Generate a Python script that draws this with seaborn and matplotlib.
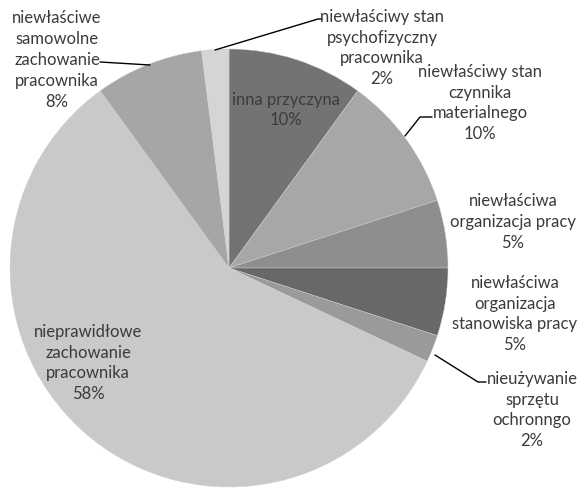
import matplotlib.pyplot as plt
import seaborn as sns

# data, clockwise from 12 o'clock
labels = ['inna przyczyna', 'niewłaściwy stan\nczynnika\nmaterialnego',
          'niewłaściwa\norganizacja pracy', 'niewłaściwa\norganizacja\nstanowiska pracy',
          'nieużywanie\nsprzętu\nochronngo', 'nieprawidłowe\nzachowanie\npracownika',
          'niewłaściwe\nsamowolne\nzachowanie\npracownika',
          'niewłaściwy stan\npsychofizyczny\npracownika']
shares = [10, 10, 5, 5, 2, 58, 8, 2]
colors = ['#737373', '#a7a7a7', '#8e8e8e', '#686868', '#9a9a9a', '#c8c9cb', '#a6a6a6', '#d5d5d5']

# layout in pixels of the 579x488 image
W, H = 579, 488
cx, cy, R = 229, 268, 219
label_px = [(286, 110), (480, 103), (513, 222), (515, 314), (532, 410), (88, 363), (57, 60), (382, 48)]
leaders = {
    1: [(405, 136), (420, 117), (432, 117)],
    4: [(435, 355), (478, 382), (486, 382)],
    6: [(150, 65), (100, 62)],
    7: [(215, 50), (318, 19), (322, 19)],
}


def to_data(px, py):
    return (px - cx) / R, (cy - py) / R


sns.set_theme(style='white')
plt.rcParams['font.family'] = ['Lato', 'DejaVu Sans']

fig = plt.figure(figsize=(W / 100, H / 100), dpi=100)
ax = fig.add_axes([0, 0, 1, 1])
ax.pie(shares, colors=colors, startangle=90, counterclock=False, radius=1,
       wedgeprops=dict(edgecolor='#d0d0d0', linewidth=0.3))
ax.set_xlim(-cx / R, (W - cx) / R)
ax.set_ylim(-(H - cy) / R, cy / R)
ax.axis('off')

for lab, s, (px, py) in zip(labels, shares, label_px):
    x, y = to_data(px, py)
    ax.text(x, y, f'{lab}\n{s}%', ha='center', va='center', fontsize=12,
            color='#3b3b3b', linespacing=1.38)

for pts in leaders.values():
    xs, ys = zip(*[to_data(px, py) for px, py in pts])
    ax.plot(xs, ys, color='black', lw=1)

fig.savefig('out.png', dpi=100)
